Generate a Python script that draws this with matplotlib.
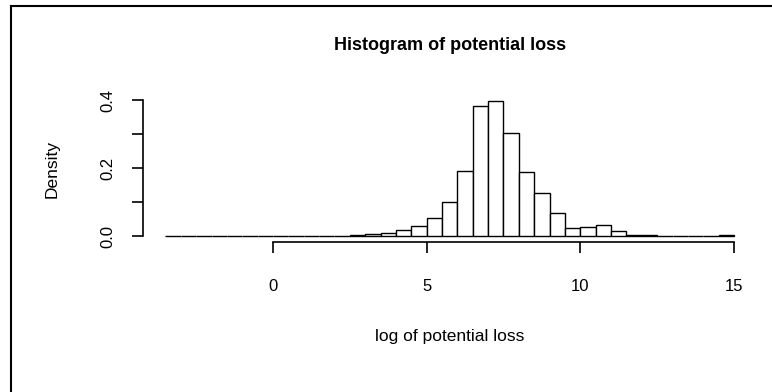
import numpy as np
import matplotlib
matplotlib.use("Agg")
import matplotlib.pyplot as plt
from matplotlib.lines import Line2D

plt.rcParams['font.family'] = ['Liberation Sans', 'DejaVu Sans']

# histogram of log(potential loss), bins of width 0.5 starting at -3.5
bin_width = 0.5
bin_left = np.arange(-3.5, 15.0, bin_width)
density = [0.0002, 0.0002, 0.0002, 0.0006, 0.0006, 0.0006, 0.0006, 0.0006, 0.0006,
           0.0008, 0.0012, 0.002, 0.003, 0.006, 0.010, 0.018, 0.030, 0.054,
           0.101, 0.192, 0.383, 0.396, 0.303, 0.189, 0.127, 0.069, 0.0235,
           0.028, 0.033, 0.016, 0.005, 0.004, 0.002, 0.002, 0.001, 0.001, 0.005]

x_ticks = [0, 5, 10, 15]
y_ticks = [0.0, 0.1, 0.2, 0.3, 0.4]
y_labels = ['0.0', '', '0.2', '', '0.4']

fig = plt.figure(figsize=(7.72, 3.92), dpi=100)
ax = fig.add_axes([0.1848, 0.3827, 0.7954, 0.3734])

ax.bar(bin_left, density, width=bin_width, align='edge',
       facecolor='white', edgecolor='black', linewidth=1.0)

ax.set_xlim(-4.24, 15.74)
ax.set_ylim(-0.0161, 0.413)

for s in ['top', 'right']:
    ax.spines[s].set_visible(False)
ax.spines['bottom'].set_bounds(0, 15)
ax.spines['left'].set_bounds(0, 0.4)
for s in ['bottom', 'left']:
    ax.spines[s].set_linewidth(1.2)

ax.set_xticks(x_ticks)
ax.set_xticklabels([str(t) for t in x_ticks])
ax.set_yticks(y_ticks)
ax.set_yticklabels(y_labels, rotation=90, va='center')
ax.tick_params(axis='both', length=8, width=1.2, labelsize=12)
ax.tick_params(axis='x', pad=19)
ax.tick_params(axis='y', pad=12)

ax.set_title('Histogram of potential loss', fontsize=13, fontweight='bold', pad=33)
ax.set_xlabel('log of potential loss', fontsize=12.5, labelpad=25)
ax.set_ylabel('Density', fontsize=12.5, labelpad=29)

# frame lines along the top and left edge
fig.add_artist(Line2D([0.01425, 0.01425], [0.0, 0.9847], transform=fig.transFigure,
                      color='black', linewidth=1.5))
fig.add_artist(Line2D([0.01425, 1.0], [0.9847, 0.9847], transform=fig.transFigure,
                      color='black', linewidth=1.5))

fig.savefig('out.png', dpi=100)
